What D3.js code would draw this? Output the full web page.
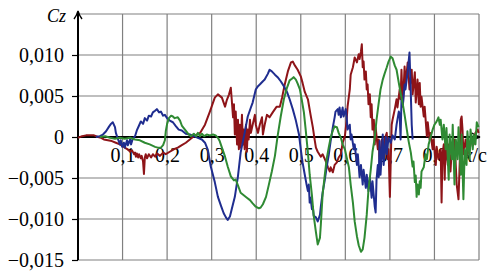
<!DOCTYPE html>
<html><head><meta charset="utf-8">
<script src="https://cdn.jsdelivr.net/npm/d3@7"></script>
<style>body{margin:0;background:#fff} svg{display:block}</style>
</head><body>
<svg id="c" width="490" height="272"></svg>
<script>
// ---- data ----
const xTickValues = [0.1,0.2,0.3,0.4,0.5,0.6,0.7,0.8];
const xGridValues = [0.1,0.2,0.3,0.4,0.5,0.6,0.7,0.8,0.9];
const yTickValues = [-0.015,-0.010,-0.005,0,0.005,0.010];
const yGridValues = [-0.015,-0.010,-0.005,0.005,0.010,0.015];
const xAxisLabel = "x/c";
const yAxisLabel = "Cz";

// red series [x/c, Cz]
const redSeries = [
[0,-0.0001],[.009,0.0001],[.018,0.0002],[.027,0.0002],[.036,0.0002],[.045,0],[.052,-0.0001],[.058,-0.0003],
[.067,-0.0004],[.076,-0.0005],[.085,-0.0007],[.094,-0.0009],[.103,-0.0012],[.108,-0.0014],[.112,-0.0015],
[.117,-0.0018],[.121,-0.0016],[.126,-0.0021],[.128,-0.0019],[.130,-0.0024],[.132,-0.0020],[.135,-0.0025],
[.137,-0.0021],[.141,-0.0026],[.143,-0.0023],[.146,-0.0030],[.148,-0.0045],[.150,-0.0025],[.152,-0.0021],
[.155,-0.0026],[.159,-0.0021],[.164,-0.0025],[.168,-0.0021],[.173,-0.0024],[.177,-0.0020],[.184,-0.0023],
[.191,-0.0019],[.197,-0.0021],[.206,-0.0018],[.215,-0.0015],[.224,-0.0013],[.233,-0.0010],[.242,-0.0007],
[.251,-0.0003],[.260,0.0001],[.274,0.0005],[.285,0.0015],[.296,0.0031],[.307,0.0048],[.314,0.0052],
[.323,0.0048],[.330,0.0037],[.334,0.0045],[.339,0.0052],[.343,0.0060],[.345,0.0046],[.348,0.0024],
[.350,0.0040],[.352,0.0003],[.354,0.0031],[.357,-0.0009],[.359,0.0021],[.361,-0.0015],[.363,0.0015],
[.365,-0.0013],[.368,0.0027],[.370,-0.0009],[.372,0.0009],[.374,-0.0015],[.377,0.0015],[.379,-0.0018],
[.381,0.0009],[.383,-0.0003],[.386,0.0021],[.388,0.0005],[.392,0.0015],[.397,0.0027],[.399,0.0015],
[.404,0.0005],[.408,0.0015],[.413,0.0024],[.415,0.0003],[.419,0.0015],[.424,0.0027],[.430,0.0024],
[.437,0.0030],[.442,0.0034],[.446,0.0037],[.453,0.0037],[.458,0.0048],[.464,0.0064],[.471,0.0080],
[.478,0.0091],[.482,0.0092],[.487,0.0087],[.493,0.0082],[.500,0.0074],[.504,0.0066],[.509,0.0055],
[.516,0.0046],[.522,0.0027],[.527,0.0012],[.531,-0.0003],[.534,-0.0013],[.538,-0.0018],[.545,-0.0024],
[.549,-0.0021],[.554,-0.0027],[.558,-0.0032],[.561,-0.0037],[.565,-0.0042],[.567,-0.0037],[.572,-0.0043],
[.576,-0.0034],[.581,-0.0031],[.585,-0.0025],[.590,-0.0021],[.594,-0.0007],[.599,0.0001],[.603,0.0021],
[.605,0.0037],[.610,0.0058],[.612,0.0076],[.617,0.0085],[.621,0.0097],[.626,0.0091],[.630,0.0101],
[.632,0.0095],[.635,0.0104],[.637,0.0113],[.639,0.0085],[.641,0.0092],[.643,0.0070],[.646,0.0080],
[.648,0.0058],[.650,0.0064],[.652,0.0040],[.655,0.0052],[.657,0.0024],[.659,0.0040],[.661,0.0009],
[.664,0.0021],[.666,-0.0009],[.668,0.0012],[.673,-0.0015],[.675,-0.0003],[.677,-0.0031],[.682,-0.0003],
[.686,-0.0025],[.688,-0.0003],[.693,0.0005],[.695,-0.0027],[.697,-0.0015],[.700,-0.0073],[.702,-0.0027],
[.704,0.0015],[.706,0.0021],[.711,0.0034],[.715,0.0046],[.717,0.0036],[.722,0.0058],[.724,0.0046],
[.726,0.0082],[.729,0.0037],[.733,0.0086],[.735,0.0064],[.740,0.0091],[.744,0.0058],[.749,0.0082],
[.751,0.0052],[.756,0.0079],[.758,0.0042],[.762,0.0070],[.765,0.0040],[.767,0.0066],[.769,0.0037],
[.771,0.0049],[.776,0.0025],[.778,0.0037],[.783,0.0001],[.785,0.0018],[.789,-0.0003],[.791,0.0005],
[.796,-0.0015],[.798,-0.0003],[.803,-0.0034],[.805,-0.0012],[.809,-0.0027],[.814,-0.0015],[.816,-0.0080],
[.818,-0.0021],[.821,-0.0009],[.823,-0.0052],[.825,-0.0005],[.830,-0.0034],[.832,-0.0009],[.836,-0.0042],
[.839,-0.0015],[.843,-0.0027],[.845,-0.0003],[.850,-0.0058],[.854,-0.0076],[.857,-0.0027],[.859,0.0021],
[.861,0.0025],[.863,0.0009],[.865,-0.0021],[.870,-0.0003],[.874,-0.0021],[.879,-0.0015],[.883,-0.0003],
[.888,-0.0009],[.892,0.0005],[.897,0.0009],[.899,0.0005]
];

// blue series [x/c, Cz]
const blueSeries = [
[.040,0],[.049,0.0001],[.056,0.0003],[.063,0.0007],[.070,0.0013],[.074,0.0016],[.078,0.0018],[.083,0.0012],
[.085,0.0005],[.090,-0.0003],[.094,-0.0009],[.096,-0.0004],[.099,-0.0012],[.103,-0.0007],[.105,-0.0013],
[.110,-0.0004],[.112,-0.0010],[.117,-0.0003],[.119,-0.0009],[.123,-0.0002],[.128,0.0001],[.132,0.0008],
[.137,0.0014],[.141,0.0019],[.146,0.0016],[.150,0.0023],[.155,0.0020],[.159,0.0026],[.164,0.0025],
[.168,0.0030],[.173,0.0032],[.177,0.0034],[.182,0.0030],[.186,0.0031],[.191,0.0026],[.195,0.0027],
[.200,0.0023],[.206,0.0020],[.213,0.0018],[.220,0.0013],[.226,0.0009],[.233,0.0008],[.242,0.0004],
[.251,0.0003],[.260,0.0001],[.269,-0.0001],[.278,-0.0003],[.285,-0.0007],[.291,-0.0015],[.298,-0.0036],
[.307,-0.0055],[.314,-0.0073],[.321,-0.0084],[.327,-0.0093],[.332,-0.0098],[.336,-0.0101],[.341,-0.0097],
[.345,-0.0088],[.352,-0.0073],[.359,-0.0048],[.365,-0.0019],[.374,0.0005],[.381,0.0025],[.388,0.0036],
[.392,0.0042],[.399,0.0058],[.404,0.0062],[.408,0.0064],[.415,0.0068],[.419,0.0070],[.426,0.0077],
[.430,0.0082],[.435,0.0080],[.442,0.0076],[.448,0.0073],[.455,0.0068],[.462,0.0062],[.469,0.0055],
[.475,0.0046],[.482,0.0034],[.489,0.0020],[.496,0.0003],[.500,-0.0015],[.504,-0.0031],[.509,-0.0046],
[.513,-0.0058],[.516,-0.0066],[.518,-0.0058],[.520,-0.0080],[.522,-0.0074],[.525,-0.0088],[.527,-0.0085],
[.529,-0.0096],[.534,-0.0098],[.538,-0.0103],[.543,-0.0095],[.545,-0.0085],[.549,-0.0068],[.554,-0.0052],
[.558,-0.0037],[.563,-0.0021],[.567,-0.0005],[.572,0.0012],[.576,0.0024],[.578,0.0031],[.583,0.0034],
[.585,0.0027],[.587,0.0036],[.590,0.0024],[.594,0.0036],[.596,0.0025],[.601,0.0034],[.603,0.0024],
[.605,0.0009],[.610,0.0015],[.612,-0.0003],[.614,0.0003],[.619,-0.0015],[.621,-0.0009],[.626,-0.0034],
[.628,-0.0021],[.632,-0.0049],[.635,-0.0034],[.639,-0.0058],[.641,-0.0040],[.646,-0.0062],[.648,-0.0046],
[.652,-0.0066],[.655,-0.0049],[.659,-0.0074],[.661,-0.0054],[.666,-0.0085],[.668,-0.0092],[.670,-0.0052],
[.673,-0.0034],[.675,-0.0049],[.677,-0.0005],[.679,-0.0046],[.684,0.0003],[.686,-0.0034],[.691,0],
[.693,-0.0021],[.697,-0.0001],[.702,-0.0007],[.706,0.0002],[.711,-0.0003],[.715,0.0015],[.720,0.0031],
[.722,0.0027],[.724,-0.0003],[.726,0.0046],[.729,0.0038],[.733,0.0064],[.735,0.0058],[.740,0.0080],
[.744,0.0103],[.747,0.0052],[.749,0.0015],[.751,-0.0003]
];

// green series [x/c, Cz]
const greenSeries = [
[.049,0],[.061,0.0001],[.072,-0.0001],[.083,-0.0002],[.094,-0.0001],[.105,-0.0002],[.117,-0.0001],
[.128,-0.0003],[.139,-0.0004],[.150,-0.0007],[.161,-0.0009],[.173,-0.0012],[.179,-0.0013],[.186,-0.0013],
[.191,-0.0010],[.195,-0.0004],[.197,0.0007],[.200,0.0016],[.204,0.0023],[.209,0.0026],[.213,0.0025],
[.217,0.0023],[.224,0.0024],[.229,0.0020],[.233,0.0014],[.240,0.0009],[.247,0.0004],[.253,0.0001],
[.260,0.0004],[.265,0.0001],[.269,0.0005],[.274,0.0001],[.278,0.0004],[.283,0.0001],[.289,0.0003],
[.296,0.0002],[.303,0.0003],[.309,0.0002],[.314,-0.0001],[.318,-0.0005],[.323,-0.0013],[.330,-0.0024],
[.336,-0.0036],[.343,-0.0048],[.350,-0.0053],[.354,-0.0052],[.359,-0.0059],[.365,-0.0068],[.372,-0.0071],
[.379,-0.0074],[.386,-0.0077],[.392,-0.0081],[.399,-0.0085],[.406,-0.0087],[.410,-0.0086],[.415,-0.0082],
[.422,-0.0073],[.428,-0.0059],[.435,-0.0042],[.442,-0.0023],[.448,0.0001],[.455,0.0025],[.462,0.0046],
[.469,0.0060],[.475,0.0069],[.480,0.0071],[.484,0.0073],[.489,0.0070],[.493,0.0065],[.498,0.0058],
[.502,0.0046],[.507,0.0030],[.511,0.0009],[.516,-0.0019],[.520,-0.0046],[.525,-0.0071],[.529,-0.0096],
[.534,-0.0116],[.538,-0.0131],[.543,-0.0123],[.545,-0.0107],[.549,-0.0070],[.554,-0.0046],[.558,-0.0027],
[.563,-0.0012],[.567,-0.0001],[.572,0.0008],[.576,0.0013],[.581,0.0012],[.585,0.0005],[.590,-0.0001],
[.594,-0.0009],[.599,-0.0015],[.603,-0.0025],[.608,-0.0037],[.612,-0.0058],[.617,-0.0080],[.621,-0.0103],
[.626,-0.0121],[.630,-0.0132],[.635,-0.0140],[.639,-0.0137],[.643,-0.0123],[.648,-0.0095],[.652,-0.0064],
[.657,-0.0040],[.661,-0.0018],[.666,-0.0001],[.670,0.0021],[.675,0.0042],[.679,0.0058],[.684,0.0070],
[.688,0.0077],[.693,0.0085],[.697,0.0092],[.702,0.0098],[.706,0.0096],[.711,0.0087],[.715,0.0082],
[.720,0.0066],[.724,0.0054],[.729,0.0040],[.733,0.0027],[.738,0.0009],[.742,-0.0005],[.747,-0.0019],
[.751,-0.0036],[.753,-0.0030],[.756,-0.0055],[.758,-0.0047],[.760,-0.0073],[.762,-0.0058],[.765,-0.0070],
[.767,-0.0054],[.769,-0.0062],[.771,-0.0042],[.776,-0.0037],[.780,-0.0021],[.783,-0.0027],[.787,-0.0009],
[.791,-0.0001],[.796,0.0009],[.800,0.0015],[.805,0.0019],[.809,0.0024],[.812,0.0015],[.814,0.0021],
[.818,-0.0003],[.821,0.0015],[.825,-0.0015],[.827,0.0011],[.832,-0.0052],[.834,0.0003],[.839,-0.0027],
[.841,0.0015],[.845,-0.0058],[.848,-0.0003],[.852,-0.0027],[.854,0.0012],[.859,-0.0046],[.861,0.0003],
[.865,-0.0076],[.868,-0.0015],[.872,-0.0034],[.874,0.0007],[.879,-0.0027],[.881,0.0009],[.886,-0.0015],
[.888,0.0003],[.892,-0.0009],[.895,0.0018],[.899,0.0012]
];

const seriesList = [
  {name:"red", data:redSeries, color:"#8e1418"},
  {name:"blue", data:blueSeries, color:"#1f2d8f"},
  {name:"green", data:greenSeries, color:"#2f8a33"}
];

// ---- drawing ----
const svg = d3.select("#c");
const x = d3.scaleLinear().domain([0,0.9]).range([78,479]);
const y = d3.scaleLinear().domain([-0.015,0.015]).range([260,14]);
const font = "'Liberation Serif','Times New Roman',serif";

const fmtY = d => d===0 ? "0" : (d<0 ? "\u2212" : "") + Math.abs(d).toFixed(3).replace(".", ",");
const fmtX = d => d.toFixed(1).replace(".", ",");

// grid
const grid = svg.append("g").attr("stroke","#808080").attr("stroke-width",1.2);
grid.selectAll("line.v").data(xGridValues).join("line")
  .attr("x1",d=>x(d)).attr("x2",d=>x(d)).attr("y1",y(0.015)).attr("y2",y(-0.015));
grid.selectAll("line.h").data(yGridValues).join("line")
  .attr("x1",x(0)).attr("x2",x(0.9)).attr("y1",d=>y(d)).attr("y2",d=>y(d));

// y axis ticks + labels
const yAxis = svg.append("g").attr("transform",`translate(${x(0)},0)`)
  .call(d3.axisLeft(y).tickValues(yTickValues).tickFormat(fmtY).tickSize(6).tickPadding(8));
yAxis.select(".domain").remove();
yAxis.selectAll(".tick line").attr("stroke","#000").attr("stroke-width",1.2);
yAxis.selectAll(".tick text").attr("font-family",font).attr("font-size",20).attr("fill","#000").attr("dy","0.33em");

// x axis labels
const xAxis = svg.append("g").attr("transform",`translate(0,${y(0)})`)
  .call(d3.axisBottom(x).tickValues(xTickValues).tickFormat(fmtX).tickSize(0).tickPadding(11));
xAxis.select(".domain").remove();
xAxis.selectAll(".tick text").attr("font-family",font).attr("font-size",20).attr("fill","#000");

// x axis title
const xt = svg.append("text").attr("x",487).attr("y",162).attr("text-anchor","end")
  .attr("font-family",font).attr("font-size",20).attr("fill","#000");
xt.append("tspan").attr("font-style","italic").text(xAxisLabel.split("/")[0]);
xt.append("tspan").text("/" + xAxisLabel.split("/")[1]);

// y axis title
svg.append("text").attr("x",66).attr("y",22).attr("text-anchor","end")
  .attr("font-family",font).attr("font-size",18).attr("font-style","italic").attr("fill","#000")
  .text(yAxisLabel);

// axes lines
svg.append("line").attr("x1",x(0)).attr("x2",x(0.9)).attr("y1",y(0)).attr("y2",y(0))
  .attr("stroke","#000").attr("stroke-width",2);
svg.append("line").attr("x1",x(0)).attr("x2",x(0)).attr("y1",y(-0.015)).attr("y2",12)
  .attr("stroke","#000").attr("stroke-width",2);
// arrowheads
svg.append("path").attr("d",`M${x(0)-4},${19} Q${x(0)-1},${15} ${x(0)},${11} Q${x(0)+1},${15} ${x(0)+4},${19}`)
  .attr("fill","none").attr("stroke","#000").attr("stroke-width",1.4);
svg.append("path").attr("d",`M${x(0.9)-7},${y(0)-4} Q${x(0.9)-3},${y(0)-1} ${x(0.9)+1},${y(0)} Q${x(0.9)-3},${y(0)+1} ${x(0.9)-7},${y(0)+4}`)
  .attr("fill","none").attr("stroke","#000").attr("stroke-width",1.4);

// curves
const line = d3.line().x(d=>x(d[0])).y(d=>y(d[1]));
svg.append("g").selectAll("path").data(seriesList).join("path")
  .attr("d",d=>line(d.data)).attr("fill","none").attr("stroke",d=>d.color)
  .attr("stroke-width",2).attr("stroke-linejoin","round");
</script>
</body></html>
